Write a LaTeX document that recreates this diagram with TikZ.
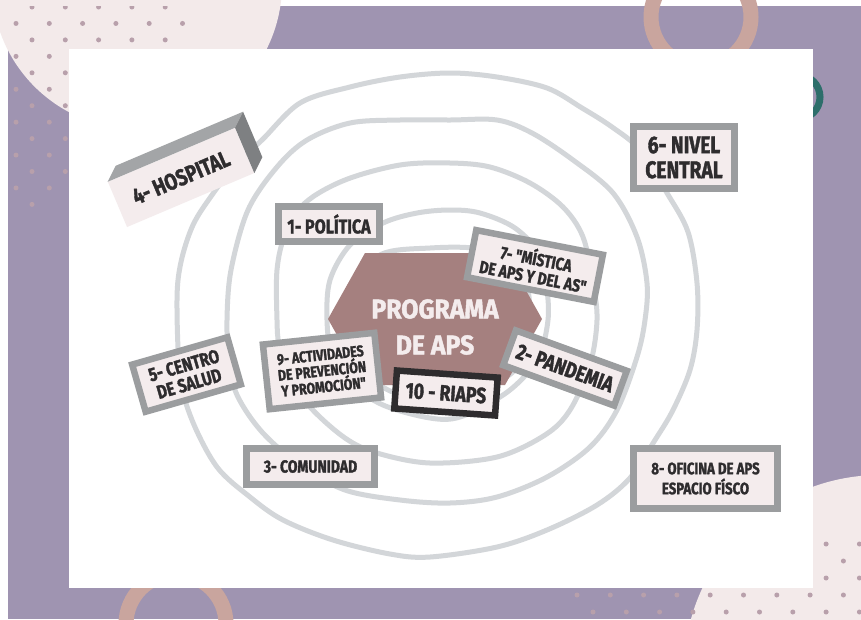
\documentclass[tikz,border=0pt]{standalone}
\usepackage{fontspec}
\newfontfamily\lblfont{Fira Sans}[FakeStretch=0.8,FakeBold=1.6]
\newfontfamily\hexfont{Fira Sans}[FakeStretch=0.92,FakeBold=1.6]
\usetikzlibrary{calc}
\newcommand\fsz[2]{\fontsize{#1}{#2}\selectfont}
\definecolor{bgpurple}{HTML}{9F94B1}
\definecolor{blush}{HTML}{F3EAEA}
\definecolor{dotc}{HTML}{B8A0AB}
\definecolor{ringtan}{HTML}{C9A59E}
\definecolor{tealring}{HTML}{2D6E6B}
\definecolor{loopgrey}{HTML}{D3D6D9}
\definecolor{hexmauve}{HTML}{A5807F}
\definecolor{boxfill}{HTML}{F4ECED}
\definecolor{boxedge}{HTML}{9B9D9F}
\definecolor{ink}{HTML}{2E2C2E}
\definecolor{topface}{HTML}{A3A5A7}
\definecolor{sideface}{HTML}{7E8082}
\begin{document}
\begin{tikzpicture}[x=1pt,y=-1pt,
  loopline/.style={draw=loopgrey,line width=5pt,line join=round},
  tagbox/.style={fill=boxfill,draw=boxedge,line width=6.5pt,inner sep=0pt,
                 align=center,text=ink},
  spot/.style={fill=dotc}]
\useasboundingbox (0,0) rectangle (861,619);
% backdrop
\fill[white] (0,0) rectangle (861,619);
\fill[bgpurple] (8,6) rectangle (861,619);
\fill[blush] (137,-16) circle (145pt);
\fill[blush] (880,671) circle (196pt);
% dotted patterns
\begin{scope}
  \clip (8,6) -- (187,6) -- (187,197) -- (45,197) -- (45,212) -- (8,212) -- cycle;
  \foreach \k in {0,...,12} {
    \pgfmathsetmacro\yy{7+16.45*\k}
    \pgfmathsetmacro\xo{mod(\k,2)==0 ? 32 : 16}
    \foreach \j in {0,...,5} \fill[spot] (\xo+33.3*\j,\yy) circle (2.5pt);
  }
\end{scope}
\begin{scope}
  \clip (570,536) rectangle (861,619);
  \foreach \m in {0,...,4} {
    \pgfmathsetmacro\yy{544+17*\m}
    \pgfmathsetmacro\xo{mod(\m,2)==0 ? 593 : 577}
    \foreach \j in {0,...,9} \fill[spot] (\xo+33.3*\j,\yy) circle (2.5pt);
  }
\end{scope}
% rings
\draw[ringtan,line width=15pt] (176,624) circle (50pt);
\draw[ringtan,line width=15pt] (701,17) circle (50pt);
\draw[tealring,line width=7pt] (798,97) circle (22pt);
% card
\fill[white] (69,49) rectangle (813,588);
% concentric loops
\draw[loopline] plot[smooth cycle,tension=0.55] coordinates {
  (177,300) (181,262) (193,225) (212,195) (235,165) (262,140) (300,103)
  (350,87) (400,77) (450,73) (497,77) (547,88) (582,108) (612,127)
  (640,150) (667,193) (688,232) (697,283) (697,330) (690,370) (673,410)
  (655,440) (630,478) (597,505) (547,530) (497,547) (430,557) (390,554)
  (333,540) (283,520) (250,497) (217,467) (192,420) (180,375)};
\draw[loopline] plot[smooth cycle,tension=0.55] coordinates {
  (227,320) (231,270) (248,210) (277,167) (307,140) (350,123) (400,120)
  (450,120) (497,120) (532,133) (573,160) (613,193) (637,237) (647,283)
  (645,320) (637,357) (617,410) (590,447) (547,477) (497,497) (450,503)
  (400,500) (345,490) (300,465) (262,432) (237,395) (229,360)};
\draw[loopline] plot[smooth cycle,tension=0.55] coordinates {
  (277,320) (277,270) (285,235) (305,203) (345,180) (400,165) (450,163)
  (490,167) (530,183) (563,207) (583,237) (593,283) (597,320) (590,365)
  (570,410) (545,435) (497,457) (430,463) (377,453) (345,438) (310,407)
  (288,375) (279,345)};
\draw[loopline] plot[smooth cycle,tension=0.55] coordinates {
  (327,320) (330,280) (350,245) (383,223) (417,213) (450,210) (480,213)
  (515,228) (540,255) (547,290) (548,320) (540,355) (523,378) (500,397)
  (460,417) (430,418) (383,405) (350,383) (332,355)};
\draw[loopline] plot[smooth cycle,tension=0.55] coordinates {
  (355,290) (380,255) (430,248) (480,249) (520,265) (530,320) (515,370)
  (460,395) (400,395) (355,360)};
% central hexagon
\fill[hexmauve] (365,253) -- (505,253) -- (542,319) -- (505,385)
  -- (365,385) -- (328,319) -- cycle;
\node[text=boxfill,font=\hexfont\bfseries\fsz{27}{36},align=center]
  (prog) at (435,327) {PROGRAMA\\DE APS};
% labels
\node[tagbox,minimum width=101,minimum height=35,font=\lblfont\bfseries\fsz{20}{20}]
  (pol) at (329,224) {1- POLÍTICA};
\node[tagbox,minimum width=101,minimum height=62,font=\lblfont\bfseries\fsz{24}{25}]
  (niv) at (684,157.5) {6- NIVEL\\CENTRAL};
\node[tagbox,minimum width=129,minimum height=48,rotate=-11,font=\lblfont\bfseries\fsz{17.5}{18}]
  (mis) at (535,266) {7- "MÍSTICA\\DE APS Y DEL AS"};
\node[tagbox,minimum width=99,minimum height=49,rotate=16,font=\lblfont\bfseries\fsz{19}{19}]
  (cen) at (186.5,374.5) {5- CENTRO\\DE SALUD};
\node[tagbox,minimum width=112,minimum height=65,rotate=6,font=\lblfont\bfseries\fsz{15.5}{16}]
  (act) at (322,371) {9- ACTIVIDADES\\DE PREVENCIÓN\\Y PROMOCIÓN"};
\node[tagbox,draw=ink,minimum width=101,minimum height=38,rotate=-4,font=\lblfont\bfseries\fsz{22}{24}]
  (ria) at (446,393) {10 - RIAPS};
\node[tagbox,minimum width=118,minimum height=37,rotate=-20,font=\lblfont\bfseries\fsz{22}{22}]
  (pan) at (565,368) {2- PANDEMIA};
\node[tagbox,minimum width=128,minimum height=36,font=\lblfont\bfseries\fsz{17.5}{18}]
  (com) at (310.5,466.5) {3- COMUNIDAD};
\node[tagbox,minimum width=144,minimum height=60,font=\lblfont\bfseries\fsz{16.5}{20}]
  (ofi) at (705.5,478.5) {8- OFICINA DE APS\\ESPACIO FÍSCO};
% block with depth
\node[fill=boxfill,inner sep=0pt,minimum width=138,minimum height=49,rotate=23,
  text=ink,font=\lblfont\bfseries\fsz{23}{24}] (hos) at (181,177.5) {4- HOSPITAL};
\fill[topface] (hos.north west) -- (hos.north east) -- ($(hos.north east)+(8,-16)$)
  -- ($(hos.north west)+(8,-16)$) -- cycle;
\fill[sideface] (hos.north east) -- (hos.south east) -- ($(hos.south east)+(8,-16)$)
  -- ($(hos.north east)+(8,-16)$) -- cycle;
\end{tikzpicture}
\end{document}
